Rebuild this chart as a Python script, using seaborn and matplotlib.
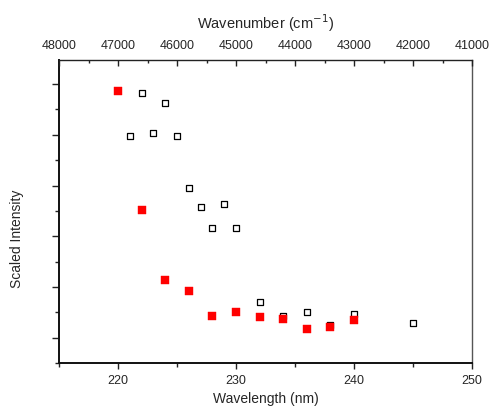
import matplotlib
matplotlib.use("Agg")
import matplotlib.pyplot as plt
from matplotlib.ticker import MultipleLocator
import seaborn as sns
import pandas as pd

# Filled series
red_wavelength = [220, 222, 224, 226, 228, 230, 232, 234, 236, 238, 240]
red_intensity = [1.073, 0.603, 0.327, 0.283, 0.184, 0.200, 0.180, 0.172, 0.133, 0.141, 0.168]

# Open series
open_wavelength = [221, 222, 223, 224, 225, 226, 227, 228, 229, 230, 232, 234, 236, 238, 240, 245]
open_intensity = [0.895, 1.065, 0.907, 1.025, 0.895, 0.690, 0.615, 0.532, 0.627, 0.532,
                  0.240, 0.184, 0.200, 0.151, 0.192, 0.157]

top_ticks = [48000, 47000, 46000, 45000, 44000, 43000, 42000, 41000]

sns.set_style("ticks")
plt.rcParams["font.family"] = ["Liberation Sans", "DejaVu Sans"]

df_red = pd.DataFrame({"wavelength": red_wavelength, "intensity": red_intensity})
df_open = pd.DataFrame({"wavelength": open_wavelength, "intensity": open_intensity})

fig = plt.figure(figsize=(4.9, 4.08), dpi=100)
ax = fig.add_axes([59 / 490, 1 - 363 / 408, (472 - 59) / 490, (363 - 60) / 408])

sns.scatterplot(data=df_open, x="wavelength", y="intensity", ax=ax, marker="s",
                s=22, facecolor="white", edgecolor="black", linewidth=0.9, zorder=3)
sns.scatterplot(data=df_red, x="wavelength", y="intensity", ax=ax, marker="s",
                s=26, color="#ff0000", edgecolor="#ff0000", linewidth=0.3, zorder=4)

ax.set_xlim(215, 250)
ax.set_ylim(0, 1.195)
ax.xaxis.set_major_locator(MultipleLocator(10))
ax.xaxis.set_minor_locator(MultipleLocator(5))
ax.set_yticks([0.1, 0.3, 0.5, 0.7, 0.9, 1.1])
ax.set_yticks([0.0, 0.2, 0.4, 0.6, 0.8, 1.0], minor=True)
ax.set_yticklabels([])

ax.tick_params(axis="x", which="major", direction="out", length=4.5, width=1.0,
               labelsize=9, pad=4, color="#222222")
ax.tick_params(axis="x", which="minor", direction="out", length=3, width=1.0, color="#222222")
ax.tick_params(axis="y", which="major", direction="out", length=5, width=1.0, color="#222222")
ax.tick_params(axis="y", which="minor", direction="out", length=3, width=1.0, color="#222222")

ax.set_xlabel("Wavelength (nm)", fontsize=10, labelpad=4)
ax.set_ylabel("Scaled Intensity", fontsize=10)
ax.yaxis.set_label_coords(-0.084, 0.41)

for side in ["left", "bottom"]:
    ax.spines[side].set_linewidth(1.4)
    ax.spines[side].set_color("#111111")
ax.spines["top"].set_linewidth(1.0)
ax.spines["top"].set_color("#222222")
ax.spines["right"].set_linewidth(1.0)
ax.spines["right"].set_color("#555555")
ax.spines["right"].set_visible(True)
ax.spines["top"].set_visible(True)

# Wavenumber scale along the top edge
top = ax.twiny()
top.set_xlim(top_ticks[0], top_ticks[-1])
top.set_xticks(top_ticks)
top.xaxis.set_minor_locator(MultipleLocator(500))
top.tick_params(axis="x", which="major", direction="in", length=4, width=1.0,
                labelsize=9, pad=6, color="#222222")
top.tick_params(axis="x", which="minor", direction="in", length=2, width=1.0, color="#222222")
top.set_xlabel("Wavenumber (cm$^{-1}$)", fontsize=10.5, labelpad=8)
for sp in top.spines.values():
    sp.set_visible(False)

fig.savefig("out.png", dpi=100)
